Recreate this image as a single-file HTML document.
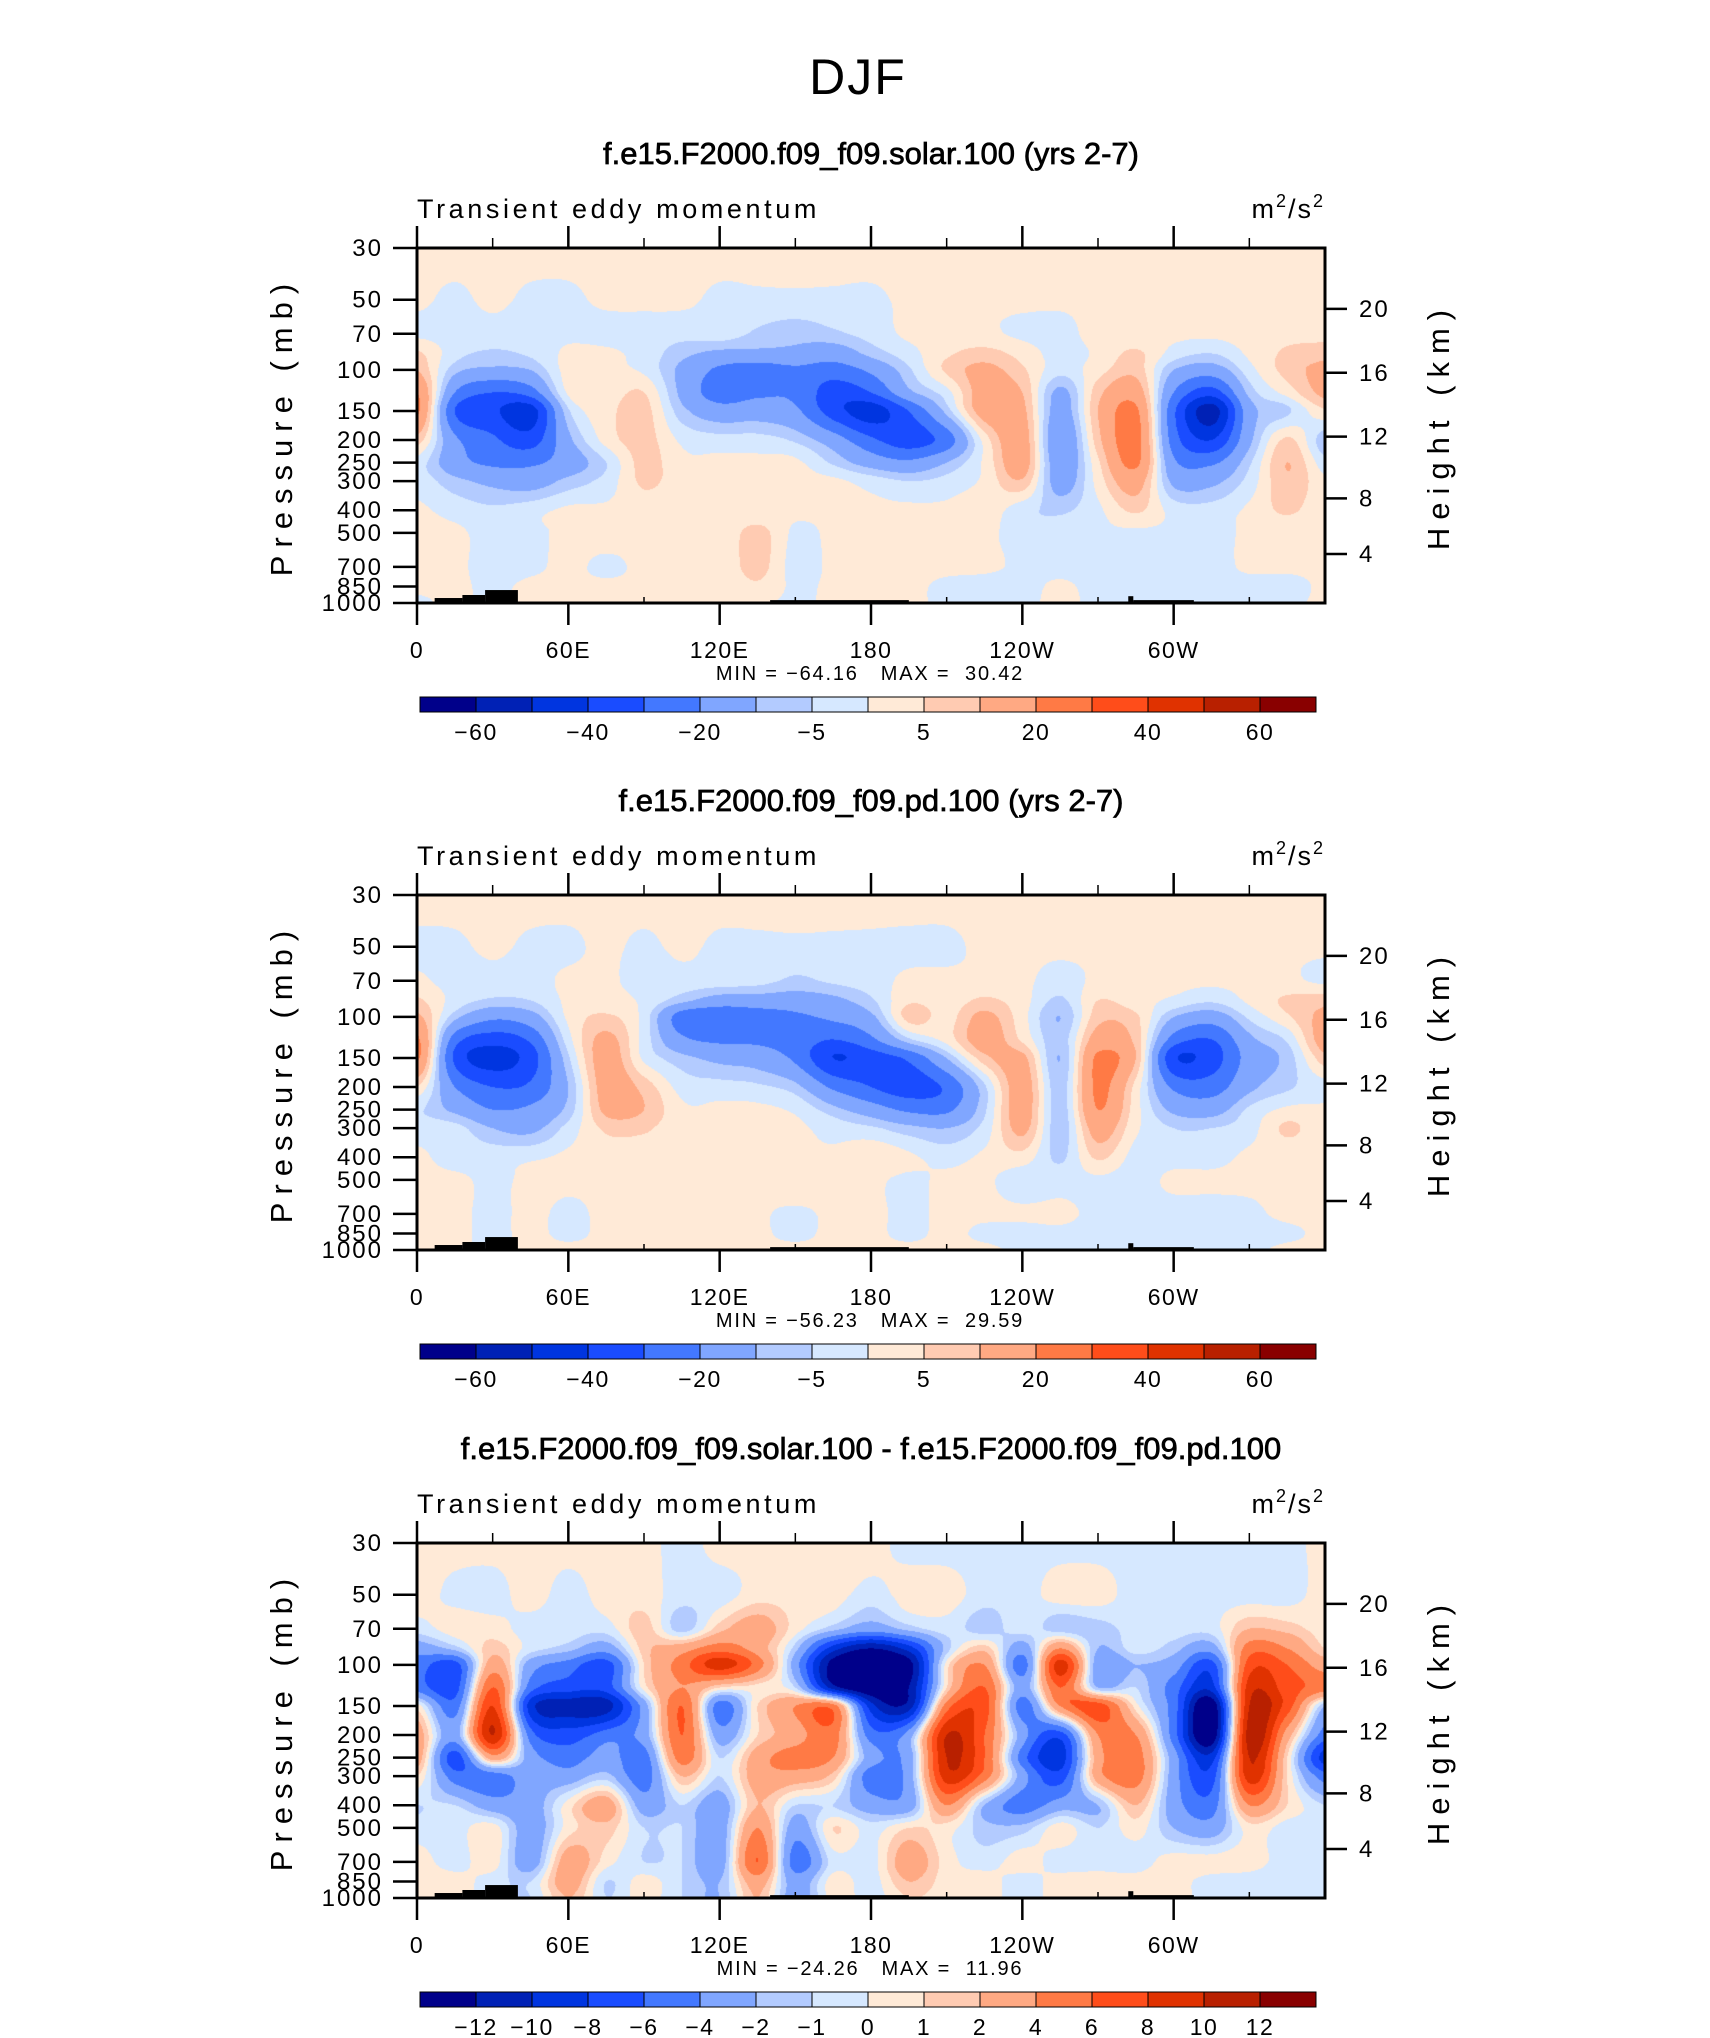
<!DOCTYPE html>
<html><head><meta charset="utf-8">
<style>
html,body{margin:0;padding:0;background:#fff;}
#wrap{position:relative;width:1710px;height:2038px;overflow:hidden;background:#fff;}
canvas{position:absolute;}
svg{position:absolute;left:0;top:0;}
text{font-family:"Liberation Sans",sans-serif;fill:#000;white-space:pre;}
</style></head>
<body>
<div id="wrap">
<canvas id="c0" width="908" height="355" style="left:417px;top:248px"></canvas>
<canvas id="c1" width="908" height="355" style="left:417px;top:895px"></canvas>
<canvas id="c2" width="908" height="355" style="left:417px;top:1543px"></canvas>
<svg id="svg" width="1710" height="2038" xmlns="http://www.w3.org/2000/svg">
<text x="858" y="94" font-size="50" text-anchor="middle" letter-spacing="2">DJF</text>
</svg>
</div>
<script>
const lons = [0,15,30,45,60,75,90,105,120,135,150,165,180,195,210,225,240,255,270,285,300,315,330,345,360];
const levels = [30,50,70,85,100,125,150,200,250,300,400,500,700,850,1000];
const solarField = [
[2,2,2,2,2,2,2,2,2,2,2,2,2,2,2,2,2,2,2,2,2,2,2,2,2],
[1,-1,1,-1,-1,1,1,1,-1,-1,-1,-1,-1,1,1,1,1,1,1,1,1,1,1,1,1],
[-1,-2,-2,-2,-1,-2,-2,-3,-2,-6,-8,-6,-3,1,1,1,-1,-2,2,1,1,1,2,3,3],
[6,-3,-6,-4,1,1,-2,-8,-12,-12,-12,-15,-8,-2,4,7,3,-2,1,6,-2,-5,1,6,8],
[10,-8,-12,-10,2,1,-1,-12,-22,-25,-22,-25,-18,-6,6,12,6,-3,3,8,-10,-15,-2,7,12],
[20,-20,-30,-25,1,2,5,-12,-25,-22,-22,-35,-30,-12,-2,14,10,-12,8,15,-20,-35,-8,2,12],
[22,-30,-38,-45,-6,3,7,-8,-15,-14,-18,-35,-45,-30,-8,14,12,-14,10,22,-28,-55,-14,-6,4],
[8,-18,-28,-35,-12,2,7,-1,-3,-3,-6,-15,-28,-35,-25,2,14,-18,8,24,-25,-40,-12,6,-8],
[-2,-16,-22,-22,-15,-5,7,1,1,1,1,-6,-14,-18,-10,1,14,-16,4,22,-18,-22,-6,10,-3],
[-2,-8,-12,-14,-8,-3,6,2,1,1,1,1,-2,-5,-3,1,9,-14,2,14,-12,-12,-3,9,1],
[1,-2,-4,-2,1,1,2,1,1,1,1,1,1,1,1,3,-3,-6,-1,6,-2,-3,1,6,1],
[1,1,-2,-1,1,2,1,1,1,7,-1,1,1,1,1,1,-2,-3,-1,-1,-1,-2,1,1,1],
[1,1,-2,-1,1,-1,1,1,1,7,-2,1,1,1,1,1,-1,-2,-2,-2,-1,-2,1,1,1],
[1,1,-1,1,1,1,1,3,1,4,-1,1,1,1,-1,-2,-2,1,-2,-2,-2,-2,-2,-2,1],
[-1,1,-1,1,1,1,1,1,1,1,-1,1,1,1,-1,-1,-1,1,-1,-1,-1,-1,-1,-1,1]
];
const pdField = [
[2,2,2,2,2,2,2,2,2,2,2,2,2,2,2,2,2,2,2,2,2,2,2,2,2],
[-1,-1,1,-1,-1,1,-1,1,-1,-1,-1,-1,-1,-1,-1,1,1,1,1,1,1,1,1,1,1],
[1,-2,-2,-2,1,1,-2,-2,-2,-3,-6,-4,-2,1,1,1,1,-2,1,1,1,1,1,1,-1],
[6,-2,-6,-5,1,2,-1,-8,-14,-14,-14,-12,-6,4,2,6,2,-6,5,2,-1,-4,1,6,8],
[12,-8,-18,-14,1,6,-2,-25,-28,-25,-22,-18,-12,7,3,12,2,-10,8,6,-10,-15,-4,4,12],
[22,-25,-35,-28,-2,12,-2,-18,-22,-22,-24,-30,-22,-6,2,14,4,-8,14,8,-24,-30,-12,-4,14],
[22,-32,-45,-35,-6,14,-1,-8,-12,-14,-22,-40,-35,-28,-10,8,12,-10,22,10,-38,-35,-16,-8,8],
[5,-20,-30,-28,-10,14,8,-2,-3,-4,-8,-22,-30,-35,-28,-6,14,-8,22,3,-22,-25,-12,-6,-2],
[-4,-12,-20,-18,-8,12,10,1,1,1,-1,-8,-15,-22,-22,-6,14,-8,20,2,-12,-14,-4,1,1],
[-2,-3,-10,-12,-3,6,6,1,1,1,1,-2,-4,-8,-10,-3,12,-8,14,1,-5,-5,-2,6,1],
[1,-2,-2,-1,1,2,1,1,1,1,1,1,4,1,-2,1,3,-6,6,-2,-2,-2,1,1,1],
[1,1,-1,1,1,1,1,1,4,1,4,1,1,-1,1,1,-3,-2,-1,-2,1,1,1,1,1],
[1,1,-1,1,-1,1,1,1,4,1,-1,1,1,-1,1,1,1,1,-1,-1,-2,-2,-1,1,1],
[1,1,-1,1,-1,1,1,3,3,1,-1,1,1,-1,1,-1,-2,-1,-2,-2,-2,-2,-2,-1,1],
[1,1,-1,1,1,1,1,1,1,1,1,1,1,1,1,1,-1,-1,-1,-1,-1,-1,-1,1,1]
];
const diffField = [
[0.5,0.5,0.5,0.5,0.5,0.5,0.5,-0.5,0.5,0.5,0.5,0.5,0.5,-0.5,-0.5,-0.5,-0.5,-0.5,-0.5,-0.5,-0.5,-0.5,-0.5,-0.5,0.5],
[0.5,-0.3,-0.5,0.5,-0.5,0.5,0.5,-0.5,-0.5,0.5,0.5,0.5,-0.5,0.5,0.5,-0.5,-0.5,0.5,0.5,-0.5,-0.5,-0.5,-0.5,-0.5,0.5],
[-0.5,0.5,0.5,-0.5,-0.5,-0.5,1.5,-1.5,1.5,3,0.5,-1.5,-3,-1.5,-0.5,-1.5,-0.5,-1.5,-1.5,-0.5,-0.5,-0.5,2,1.5,0.5],
[-3,-1.5,1.5,-0.5,-1.5,-3,1.5,3,5,3,-1.5,-9,-12,-9,-1.5,1.5,-3,4,-2,-0.5,-1.5,-3,5,4,1],
[-5,-7,3,-3,-5,-7,1,5,9,5,-3,-13,-14,-13,0.5,4,-5,9,-3,-2,-3,-7,7,6,3],
[-5,-7,6,-5,-7,-7,0.5,4,1,0.5,-1,-11,-14,-12,1,6,-3,6,-2,-1,-5,-9,9,7,5],
[0.5,-5,8,-9,-11,-11,-3,6,-5,1,4,5,-9,-11,5,7,-5,4,7,0.5,-5,-14,10,7,-2],
[3,-3,10,-5,-7,-5,-3,6,-3,1,3,5,-5,-3,10,6,-3,-7,4,4,-5,-14,11,3,-5],
[3,-7,3,-3,-5,-3,-5,5,-1,3,5,4,-3,-3,10,6,-5,-9,3,5,-3,-9,10,1,-9],
[1,-5,-5,-3,-3,-1.5,-5,2,-1,3,3,1.5,-5,-3,9,5,-3,-7,3,5,-3,-7,9,1,-5],
[-1,-1,-3,-3,0.5,3,-3,-1,-3,2,-1,-1,-3,-3,4,-2,-5,-3,-2,2,-3,-5,4,1,-1],
[-0.5,-0.5,0.5,-3,0.5,1.5,-1,-1,-3,4,-3,1,-0.5,1,0.5,-1.5,-1.5,0.5,-1,0.5,-2,-3,0.5,-0.5,-0.5],
[0.5,-0.5,0.5,-3,3,0.5,-1,-1,-3,6,-5,-0.5,-0.5,3,0.5,-0.5,0.5,-0.5,-0.5,-0.5,0.5,0.5,0.5,-0.5,-0.5],
[0.5,0.5,-0.5,-1,3,-1,0.5,-1,-2,3,-3,0.5,-0.5,2,0.5,0.5,-0.5,0.5,0.5,0.5,0.5,-0.5,-0.5,-0.5,-0.5],
[0.5,0.5,-0.5,-1,2,-1,0.5,-1,-2,2,-3,0.5,-0.5,1,0.5,0.5,-0.5,0.5,0.5,0.5,0.5,-0.5,-0.5,-0.5,-0.5]
];
const absBounds = [-60,-50,-40,-30,-20,-10,-5,0,5,10,20,30,40,50,60];
const diffBounds = [-12,-10,-8,-6,-4,-2,-1,0,1,2,4,6,8,10,12];
const absLabels = ['−60','','−40','','−20','','−5','','5','','20','','40','','60'];
const diffLabels = ['−12','−10','−8','−6','−4','−2','−1','0','1','2','4','6','8','10','12'];
const fillColors = ['#00008a','#0021b5','#0035e0','#1a4cff','#4378ff','#80a6ff','#b3cbff','#d6e8ff','#ffead7','#ffcbb2','#ffa983','#ff7a45','#ff4d1a','#e03200','#b82000','#890000'];
const pressureTicks = [30,50,70,100,150,200,250,300,400,500,700,850,1000];
const heightTicks = [4,8,12,16,20];
const lonTicks = [0,60,120,180,240,300];
const lonLabels = ['0','60E','120E','180','120W','60W'];
const topoSegments = [[7,18,952],[18,27,924],[27,40,880],[140,195,972],[282,284,935],[284,308,972]];
const titles = ['f.e15.F2000.f09_f09.solar.100 (yrs 2-7)','f.e15.F2000.f09_f09.pd.100 (yrs 2-7)','f.e15.F2000.f09_f09.solar.100 - f.e15.F2000.f09_f09.pd.100'];
const minVals = ['−64.16','−56.23','−24.26'];
const maxVals = ['30.42','29.59','11.96'];

const PL=417, PW=908, PH=355;
const tops=[248,895,1543];
const LP0=Math.log10(30), LP1=Math.log10(1000);
function xOf(lon){return PL+lon/360*PW;}
function yOfP(top,p){return top+(Math.log10(p)-LP0)/(LP1-LP0)*PH;}
function pOfZ(zkm){const z=zkm*1000; if(z<11000) return 1013.25*Math.pow(1-2.25577e-5*z,5.25588); return 226.32*Math.exp(-(z-11000)/6341.6);}

function cr(p0,p1,p2,p3,t){return p1+0.5*t*(p2-p0+t*(2*p0-5*p1+4*p2-p3+t*(3*(p1-p2)+p3-p0)));}
function drawField(cv,field,bounds){
  const ctx=cv.getContext('2d');const img=ctx.createImageData(PW,PH);
  const rgb=fillColors.map(c=>[parseInt(c.substr(1,2),16),parseInt(c.substr(3,2),16),parseInt(c.substr(5,2),16)]);
  const lp=levels.map(v=>Math.log10(v));
  const nr=levels.length,nc=lons.length;
  const g=(r,c)=>field[Math.max(0,Math.min(nr-1,r))][Math.max(0,Math.min(nc-1,c))];
  for(let y=0;y<PH;y++){
    const L=LP0+(y+0.5)/PH*(LP1-LP0);
    let r=0;while(r<nr-2&&lp[r+1]<L)r++;
    const ty=Math.max(0,Math.min(1,(L-lp[r])/(lp[r+1]-lp[r])));
    for(let x=0;x<PW;x++){
      const lon=(x+0.5)/PW*360;
      let c=Math.min(nc-2,Math.floor(lon/15));const tx=(lon-lons[c])/15;
      const col=[];
      for(let k=-1;k<3;k++){col.push(cr(g(r+k,c-1),g(r+k,c),g(r+k,c+1),g(r+k,c+2),tx));}
      const v=cr(col[0],col[1],col[2],col[3],ty);
      let b=0;while(b<bounds.length&&v>=bounds[b])b++;
      const cc=rgb[b];const i=(y*PW+x)*4;
      img.data[i]=cc[0];img.data[i+1]=cc[1];img.data[i+2]=cc[2];img.data[i+3]=255;
    }
  }
  ctx.putImageData(img,0,0);
}
drawField(document.getElementById('c0'),solarField,absBounds);
drawField(document.getElementById('c1'),pdField,absBounds);
drawField(document.getElementById('c2'),diffField,diffBounds);

const svg=document.getElementById('svg');const NS='http://www.w3.org/2000/svg';
function mk(tag,attrs,parent){const e=document.createElementNS(NS,tag);for(const k in attrs)e.setAttribute(k,attrs[k]);(parent||svg).appendChild(e);return e;}
function txt(s,attrs,parent){const e=mk('text',attrs,parent);e.textContent=s;return e;}

for(let k=0;k<3;k++){
  const T=tops[k],B=T+PH;
  const g=mk('g',{});
  
  
  let e=txt(titles[k],{x:871,y:T-84,'font-size':31,'text-anchor':'middle',stroke:'#000','stroke-width':0.7},g);
  
  
  e=txt('Transient eddy momentum',{x:417,y:T-30,'font-size':27,'letter-spacing':'3.6'},g);
  
  
  e=mk('text',{x:1325,y:T-30,'font-size':27,'text-anchor':'end','letter-spacing':'2'},g);
  e.innerHTML='m<tspan dy="-11" font-size="18">2</tspan><tspan dy="11">/s</tspan><tspan dy="-11" font-size="18">2</tspan>';
  
  
  for(const s of topoSegments){
    const ty=yOfP(T,s[2]);
    e=mk('rect',{x:xOf(s[0]),y:ty,width:xOf(s[1])-xOf(s[0]),height:B-ty,fill:'#000'},g);
    
    
  }
  e=mk('rect',{x:PL,y:T,width:PW,height:PH,fill:'none',stroke:'#000','stroke-width':3},g);
  
  
  for(let lon=0;lon<360;lon+=30){
    const x=xOf(lon);const major=lon%60===0;
    mk('line',{x1:x,x2:x,y1:T,y2:T-(major?22:10),stroke:'#000','stroke-width':major?2.5:1.5},g);
    mk('line',{x1:x,x2:x,y1:B,y2:major?B+22:B-6,stroke:'#000','stroke-width':major?2.5:1.5},g);
  }
  for(let i=0;i<lonTicks.length;i++){
    e=txt(lonLabels[i],{x:xOf(lonTicks[i]),y:B+55,'font-size':23,'text-anchor':'middle','letter-spacing':'1.5'},g);
    
    
  }
  for(const p of pressureTicks){
    const y=yOfP(T,p);
    mk('line',{x1:PL-24,x2:PL,y1:y,y2:y,stroke:'#000','stroke-width':2.5},g);
    e=txt(String(p),{x:PL-34,y:y+8,'font-size':24,'text-anchor':'end','letter-spacing':'2'},g);
    
    
  }
  for(const z of heightTicks){
    const y=yOfP(T,pOfZ(z));
    mk('line',{x1:PL+PW,x2:PL+PW+22,y1:y,y2:y,stroke:'#000','stroke-width':2.5},g);
    e=txt(String(z),{x:PL+PW+34,y:y+8,'font-size':24,'letter-spacing':'2'},g);
    
    
  }
  const cy=T+178;
  e=txt('Pressure (mb)',{x:0,y:0,'font-size':31,'text-anchor':'middle','letter-spacing':'8',transform:'translate(292,'+cy+') rotate(-90)'},g);
  
  
  e=txt('Height (km)',{x:0,y:0,'font-size':31,'text-anchor':'middle','letter-spacing':'8',transform:'translate(1449,'+cy+') rotate(-90)'},g);
  
  
  e=txt('MIN = '+minVals[k]+'   MAX =  '+maxVals[k],{x:870,y:B+77,'font-size':20,'text-anchor':'middle','letter-spacing':'1.8'},g);
  
  
  const cbX=420,cbW=896,cbY=B+94,cbH=15,bw=cbW/16;
  for(let i=0;i<16;i++){
    e=mk('rect',{x:cbX+i*bw,y:cbY,width:bw,height:cbH,fill:fillColors[i],stroke:'#000','stroke-width':1},g);
    
    
  }
  const labs=k<2?absLabels:diffLabels;
  for(let i=0;i<15;i++){
    if(!labs[i])continue;
    e=txt(labs[i],{x:cbX+(i+1)*bw,y:cbY+43,'font-size':23,'text-anchor':'middle','letter-spacing':'1.5'},g);
    
    
  }
}
</script>
</body></html>
